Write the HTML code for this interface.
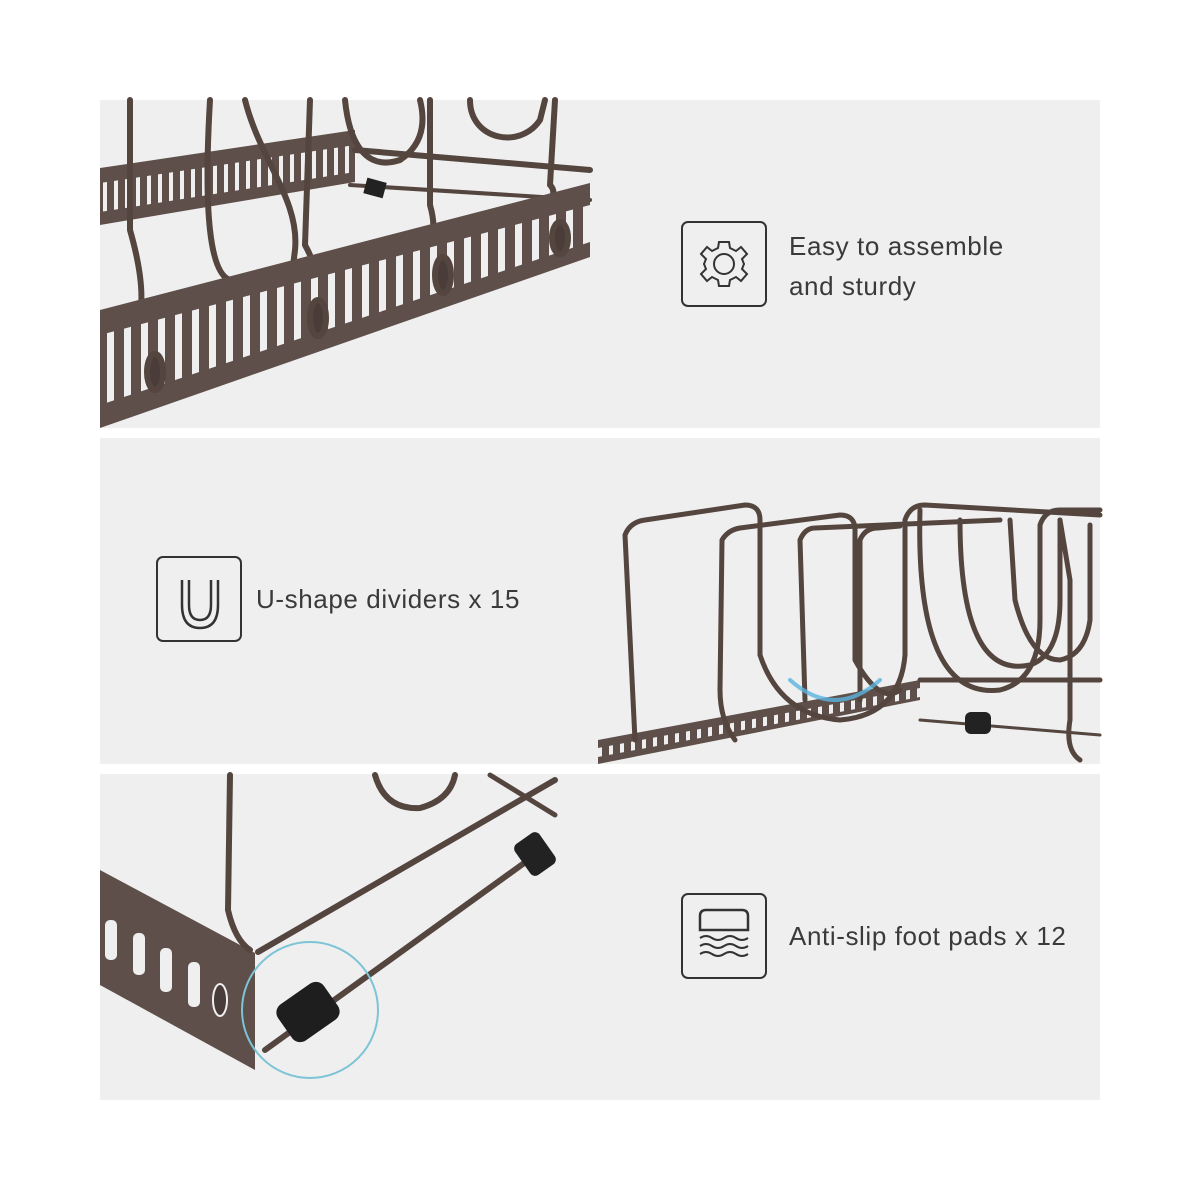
<!DOCTYPE html>
<html><head><style>
body{margin:0;width:1200px;height:1200px;background:#fff;position:relative;overflow:hidden;font-family:"Liberation Sans",sans-serif;}
.p{position:absolute;left:100px;width:1000px;background:#efefef;}
.t{position:absolute;font-size:26px;color:#3a3a3a;line-height:40px;letter-spacing:0.6px}
.box{position:absolute;width:82px;height:82px;border:2.5px solid #333;border-radius:7px;}
svg{position:absolute;left:0;top:0}
</style></head><body>
<div class="p" style="top:100px;height:328px"></div>
<div class="p" style="top:438px;height:326px"></div>
<div class="p" style="top:774px;height:326px"></div>

<svg width="1200" height="1200" fill="none" stroke-linecap="round" stroke-linejoin="round">
<defs>
<pattern id="sl" patternUnits="userSpaceOnUse" width="17" height="1200">
<rect x="0" y="0" width="17" height="1200" fill="#5e4f4a"/>
<rect x="5" y="0" width="7" height="1200" fill="#efefef"/>
</pattern>
<pattern id="sl2" patternUnits="userSpaceOnUse" width="11" height="1200">
<rect x="0" y="0" width="11" height="1200" fill="#5e4f4a"/>
<rect x="4" y="0" width="4" height="1200" fill="#efefef"/>
</pattern>
</defs>
<!-- Panel 1 -->
<g stroke="#54453f" stroke-width="6">
<polygon points="100,168 355,130 355,182 100,225" fill="#5e4f4a" stroke="none"/>
<polygon points="100,183 355,145 355,172 100,212" fill="url(#sl2)" stroke="none"/>
<line x1="355" y1="150" x2="590" y2="170"/>
<line x1="350" y1="185" x2="590" y2="200" stroke-width="4"/>
<path d="M210,100 Q200,270 230,280"/>
<path d="M245,100 C260,160 300,200 295,250 L290,290"/>
<path d="M130,100 L130,230 Q150,300 135,330"/>
<path d="M310,100 L305,245 Q330,290 300,320" />
<path d="M345,100 C350,150 370,170 400,160 Q430,140 420,100"/>
<path d="M430,100 L430,205 Q440,240 420,250"/>
<path d="M470,100 C470,140 520,150 540,120 L545,100"/>
<path d="M555,100 L550,185 Q560,195 540,210"/>
<polygon points="100,310 590,183 590,257 100,428" fill="#5e4f4a" stroke="none"/>
<polygon points="100,335 590,205 590,242 100,405" fill="url(#sl)" stroke="none"/>
<ellipse cx="155" cy="372" rx="8" ry="18" fill="#4a3c38"/>
<ellipse cx="318" cy="318" rx="8" ry="18" fill="#4a3c38"/>
<ellipse cx="443" cy="275" rx="8" ry="18" fill="#4a3c38"/>
<ellipse cx="560" cy="238" rx="8" ry="16" fill="#4a3c38"/>
<rect x="365" y="180" width="20" height="16" fill="#222" stroke="none" transform="rotate(15 375 188)"/>
</g>
<!-- Panel 2 -->
<g stroke="#54453f" stroke-width="5">
<polygon points="598,740 920,680 920,700 598,764" fill="#5e4f4a" stroke="none"/>
<polygon points="598,748 920,688 920,697 598,757" fill="url(#sl2)" stroke="none"/>
<line x1="920" y1="680" x2="1100" y2="680"/>
<line x1="920" y1="720" x2="1100" y2="735" stroke-width="3"/>
<path d="M635,740 L625,535 Q630,522 645,520 L745,505 Q760,505 760,520 L760,655 Q780,715 840,720 Q900,715 905,655 L905,520 Q910,505 925,505 L1100,515"/>
<path d="M735,740 Q720,720 720,690 L722,540 Q728,530 740,528 L840,515 Q855,515 855,530 L855,660 Q880,705 900,690"/>
<path d="M805,700 L800,540 Q805,528 815,528 L1000,520"/>
<path d="M860,700 L860,540 Q865,528 878,528 L900,526"/>
<path d="M920,510 Q915,700 1000,690 Q1040,680 1040,620 L1040,525 Q1045,510 1060,510 L1100,510"/>
<path d="M960,520 Q960,680 1030,665 Q1060,655 1060,600 L1060,520"/>
<path d="M1010,520 L1015,600 Q1030,660 1060,660 Q1085,655 1090,620 L1090,525"/>
<path d="M1060,520 L1070,580 L1070,720 Q1065,750 1080,760"/>
<rect x="965" y="712" width="26" height="22" rx="6" fill="#222" stroke="none"/>
<path d="M790,680 Q835,720 880,680" stroke="#5ab4e0" stroke-width="4" opacity="0.8"/>
</g>
<!-- Panel 3 -->
<g stroke="#54453f">
<polygon points="100,870 255,953 255,1070 100,985" fill="#5e4f4a" stroke="none"/>
<g fill="#efefef" stroke="none">
<rect x="105" y="920" width="12" height="40" rx="5"/>
<rect x="133" y="933" width="12" height="42" rx="5"/>
<rect x="160" y="948" width="12" height="44" rx="5"/>
<rect x="188" y="962" width="12" height="45" rx="5"/>
</g>
<ellipse cx="220" cy="1000" rx="7" ry="16" fill="#4a3c38" stroke="#efefef" stroke-width="2"/>
<path d="M230,775 L228,910 Q235,940 250,950" stroke-width="6"/>
<path d="M375,775 Q385,810 420,808 Q450,800 455,775" stroke-width="6"/>
<line x1="258" y1="952" x2="555" y2="780" stroke-width="6"/>
<line x1="490" y1="775" x2="555" y2="815" stroke-width="5"/>
<line x1="265" y1="1050" x2="545" y2="848" stroke-width="6"/>
<rect x="520" y="835" width="30" height="38" rx="6" fill="#222" stroke="none" transform="rotate(-35 535 854)"/>
<rect x="280" y="990" width="56" height="44" rx="10" fill="#1e1e1e" stroke="none" transform="rotate(-35 308 1012)"/>
<circle cx="310" cy="1010" r="68" stroke="#7cc4d6" stroke-width="2"/>
</g>
</svg>

<div class="box" style="left:681px;top:221px"></div>
<svg width="1200" height="1200" stroke="#333" stroke-width="2" fill="none">
<g transform="translate(724,264)">
<circle r="10"/>
<path d="M-5,-22 L5,-22 L6,-16 L12,-13 L17,-17 L23,-10 L18,-5 L20,0 L18,5 L23,10 L17,17 L12,13 L6,16 L5,22 L-5,22 L-6,16 L-12,13 L-17,17 L-23,10 L-18,5 L-20,0 L-18,-5 L-23,-10 L-17,-17 L-12,-13 L-6,-16 Z"/>
</g>
<path d="M189,580 L189,605 Q189,620 200,620 Q211,620 211,605 L211,580" stroke-width="2.5"/>
<path d="M182,580 L182,605 Q182,628 200,628 Q218,628 218,605 L218,580" stroke-width="2.5"/>
<path d="M700,930 L700,916 Q700,910 706,910 L742,910 Q748,910 748,916 L748,930 Z" stroke-width="2.5"/>
<path d="M700,938 q6,-4 12,0 q6,4 12,0 q6,-4 12,0 q6,4 12,0 M700,946 q6,-4 12,0 q6,4 12,0 q6,-4 12,0 q6,4 12,0 M700,954 q6,-4 12,0 q6,4 12,0 q6,-4 12,0 q6,4 12,0" stroke-width="2"/>
</svg>
<div class="t" style="left:789px;top:226px">Easy to assemble<br>and sturdy</div>

<div class="box" style="left:156px;top:556px"></div>
<div class="t" style="left:256px;top:579px">U-shape dividers x 15</div>

<div class="box" style="left:681px;top:893px"></div>
<div class="t" style="left:789px;top:916px">Anti-slip foot pads x 12</div>
</body></html>
